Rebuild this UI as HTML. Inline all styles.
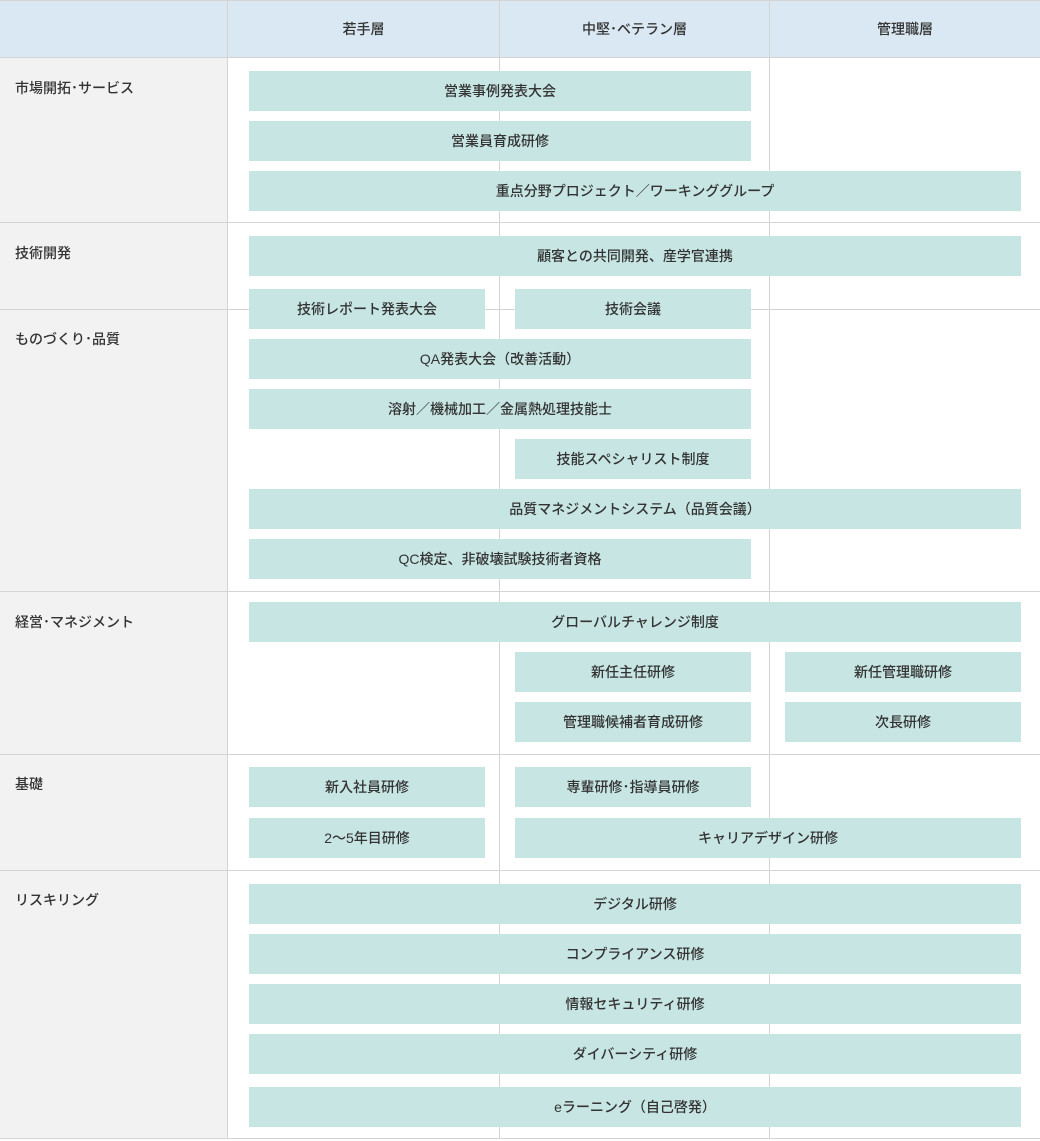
<!DOCTYPE html>
<html><head><meta charset="utf-8"><style>
body{margin:0;width:1040px;height:1141px;background:#fff;position:relative;overflow:hidden;font-family:"Liberation Sans","Noto Sans CJK JP",sans-serif;color:#333;font-weight:500}
div{position:absolute;box-sizing:border-box}
.h{top:1px;height:57px;background:#d9e8f2}
.l{left:0;width:228px;background:#f2f2f2}
.vl{width:1px;background:#d4d4d4}
.hl{left:0;width:1040px;height:1px;background:#d4d4d4}
.ht{top:1px;height:57px;line-height:57px;text-align:center;font-size:14px}
.lt{left:15px;font-size:14px}
.b{height:40px;background:#c7e6e3;text-align:center;line-height:40px;font-size:14px}
</style></head><body>
<div class="h" style="left:0;width:1040px"></div>
<div class="l" style="top:58px;height:1081px"></div>
<div class="hl" style="top:0"></div>
<div class="hl" style="top:57px"></div>
<div class="hl" style="top:222px"></div>
<div class="hl" style="top:309px"></div>
<div class="hl" style="top:591px"></div>
<div class="hl" style="top:754px"></div>
<div class="hl" style="top:870px"></div>
<div class="hl" style="top:1138px"></div>
<div class="vl" style="left:227px;top:0;height:1139px"></div>
<div class="vl" style="left:499px;top:0;height:1139px"></div>
<div class="vl" style="left:769px;top:0;height:1139px"></div>
<div class="ht" style="left:228px;width:271px">若手層</div>
<div class="ht" style="left:500px;width:269px">中堅･ベテラン層</div>
<div class="ht" style="left:770px;width:270px">管理職層</div>
<div class="lt" style="top:78px">市場開拓･サービス</div>
<div class="lt" style="top:243px">技術開発</div>
<div class="lt" style="top:329px">ものづくり･品質</div>
<div class="lt" style="top:612px">経営･マネジメント</div>
<div class="lt" style="top:774px">基礎</div>
<div class="lt" style="top:890px">リスキリング</div>
<div class="b" style="left:249px;width:502px;top:71px">営業事例発表大会</div>
<div class="b" style="left:249px;width:502px;top:121px">営業員育成研修</div>
<div class="b" style="left:249px;width:772px;top:171px">重点分野プロジェクト／ワーキンググループ</div>
<div class="b" style="left:249px;width:772px;top:236px">顧客との共同開発、産学官連携</div>
<div class="b" style="left:249px;width:236px;top:289px">技術レポート発表大会</div>
<div class="b" style="left:515px;width:236px;top:289px">技術会議</div>
<div class="b" style="left:249px;width:502px;top:339px">QA発表大会（改善活動）</div>
<div class="b" style="left:249px;width:502px;top:389px">溶射／機械加工／金属熱処理技能士</div>
<div class="b" style="left:515px;width:236px;top:439px">技能スペシャリスト制度</div>
<div class="b" style="left:249px;width:772px;top:489px">品質マネジメントシステム（品質会議）</div>
<div class="b" style="left:249px;width:502px;top:539px">QC検定、非破壊試験技術者資格</div>
<div class="b" style="left:249px;width:772px;top:602px">グローバルチャレンジ制度</div>
<div class="b" style="left:515px;width:236px;top:652px">新任主任研修</div>
<div class="b" style="left:785px;width:236px;top:652px">新任管理職研修</div>
<div class="b" style="left:515px;width:236px;top:702px">管理職候補者育成研修</div>
<div class="b" style="left:785px;width:236px;top:702px">次長研修</div>
<div class="b" style="left:249px;width:236px;top:767px">新入社員研修</div>
<div class="b" style="left:515px;width:236px;top:767px">専輩研修･指導員研修</div>
<div class="b" style="left:249px;width:236px;top:818px">2〜5年目研修</div>
<div class="b" style="left:515px;width:506px;top:818px">キャリアデザイン研修</div>
<div class="b" style="left:249px;width:772px;top:884px">デジタル研修</div>
<div class="b" style="left:249px;width:772px;top:934px">コンプライアンス研修</div>
<div class="b" style="left:249px;width:772px;top:984px">情報セキュリティ研修</div>
<div class="b" style="left:249px;width:772px;top:1034px">ダイバーシティ研修</div>
<div class="b" style="left:249px;width:772px;top:1087px">eラーニング（自己啓発）</div>
</body></html>
